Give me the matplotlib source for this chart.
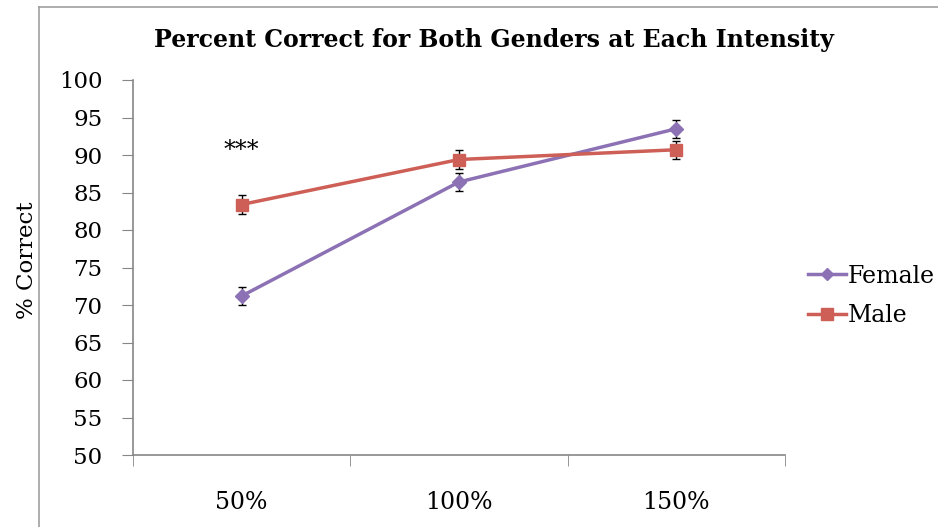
import matplotlib.pyplot as plt
from matplotlib.lines import Line2D

categories = ["50%", "100%", "150%"]
female = [71.2, 86.4, 93.5]
female_err = [1.2, 1.2, 1.2]
male = [83.4, 89.4, 90.7]
male_err = [1.2, 1.2, 1.2]
yticks = [50, 55, 60, 65, 70, 75, 80, 85, 90, 95, 100]

plt.rcParams['font.family'] = ['DejaVu Serif']

W, H = 938, 527
fig = plt.figure(figsize=(W / 100, H / 100), dpi=100)
ax = fig.add_axes([133 / W, 1 - 455 / H, (785 - 133) / W, (455 - 80) / H])

purple = '#8C72B4'
red = '#CD5F57'
xs = [1, 2, 3]
ax.errorbar(xs, female, yerr=female_err, color=purple, lw=2.5, marker='D', ms=7,
            ecolor='black', elinewidth=1, capsize=3, capthick=1, label='Female', zorder=3)
ax.errorbar(xs, male, yerr=male_err, color=red, lw=2.5, marker='s', ms=9,
            ecolor='black', elinewidth=1, capsize=3, capthick=1, label='Male', zorder=3)

fs = 16.5
ax.set_xlim(0.5, 3.5)
ax.set_ylim(50, 100)
ax.set_yticks(yticks)
ax.set_yticklabels([str(v) for v in yticks], fontsize=fs)
ax.set_xticks(xs)
ax.set_xticklabels(categories, fontsize=17)
ax.set_xticks([0.5, 1.5, 2.5, 3.5], minor=True)
ax.tick_params(axis='x', which='major', length=0, pad=26)
ax.tick_params(axis='x', which='minor', length=8, color='#868686', direction='out')
ax.tick_params(axis='y', length=8, color='#868686', direction='out', pad=14)

for s in ['top', 'right']:
    ax.spines[s].set_visible(False)
for s in ['left', 'bottom']:
    ax.spines[s].set_color('#868686')
    ax.spines[s].set_linewidth(1.2)

ax.text(1, 90.6, '***', ha='center', va='center', fontsize=17)
ax.set_ylabel('% Correct', fontsize=fs)
ax.yaxis.set_label_coords((38 - 133) / 652, 0.52)
fig.text(494 / W, 1 - 40 / H, 'Percent Correct for Both Genders at Each Intensity',
         ha='center', va='center', fontsize=17, fontweight='bold')

handles = [Line2D([], [], color=purple, lw=2.5, marker='D', ms=6),
           Line2D([], [], color=red, lw=2.5, marker='s', ms=8)]
fig.legend(handles, ['Female', 'Male'], loc='center left',
           bbox_to_anchor=(808 / W, 1 - 296 / H), frameon=False, fontsize=17,
           handlelength=1.6, handletextpad=0.1, labelspacing=0.7,
           borderaxespad=0, borderpad=0)

fig.add_artist(Line2D([39 / W, 39 / W], [0, 1 - 7 / H], color='#A0A0A0', lw=1.2,
                      transform=fig.transFigure))
fig.add_artist(Line2D([39 / W, 1], [1 - 7 / H, 1 - 7 / H], color='#A0A0A0', lw=1.2,
                      transform=fig.transFigure))

fig.savefig('out.png', dpi=100)
